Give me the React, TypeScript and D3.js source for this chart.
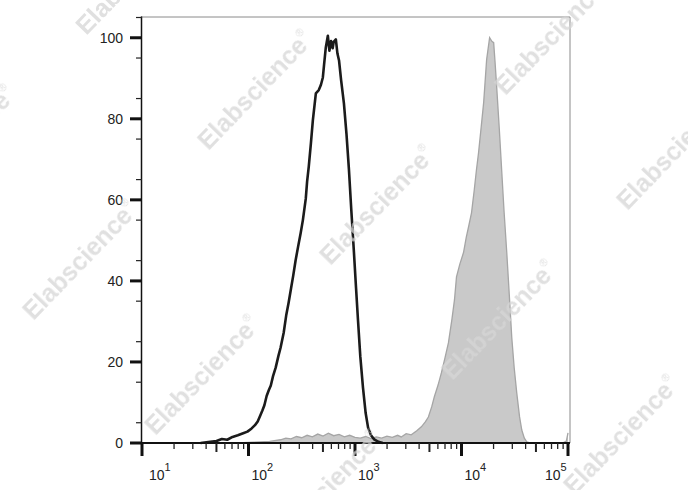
import React from 'react';
import * as d3 from 'd3';

// Unstained / isotype (black outline) histogram: fluorescence intensity & % of max
const blackFL = [35.5, 43.7, 50.1, 56.2, 63.1, 70.8, 79.4, 89.1, 97.7, 107, 115, 122, 129, 135, 141, 148, 155, 162, 170, 180, 191, 200, 214, 226, 238, 251, 263, 277, 292, 309, 324, 345, 355, 368, 385, 402, 417, 429, 457, 479, 499, 513, 532, 556, 575, 596, 617, 631, 661, 684, 708, 741, 787, 832, 877, 923, 977, 1023, 1067, 1122, 1189, 1259, 1327, 1413, 1514, 1660, 1820];
const blackCount = [0, 0.3, 0.5, 1.0, 0.8, 1.5, 1.9, 2.4, 2.8, 3.6, 4.4, 5.3, 6.8, 8.0, 9.3, 11.6, 13.0, 14.2, 16.5, 18.6, 21.5, 23.5, 27.2, 31.5, 34.6, 38.2, 41.3, 45.1, 48.4, 51.8, 55.0, 60.3, 64.5, 68.2, 73.8, 79.6, 83.4, 86.3, 87.1, 88.4, 90.2, 93.5, 97.6, 100.5, 96.8, 99.2, 97.4, 99.0, 99.6, 96.1, 94.4, 89.5, 83.8, 76.2, 67.5, 57.5, 47.1, 38.2, 30.3, 21.3, 13.6, 7.4, 3.8, 1.9, 0.9, 0.3, 0];

// Stained (grey filled) histogram
const grayFL = [79.4, 112, 158, 200, 224, 251, 282, 316, 355, 398, 447, 501, 562, 631, 708, 794, 891, 1000, 1122, 1259, 1413, 1585, 1778, 1995, 2239, 2512, 2716, 3020, 3373, 3802, 4198, 4571, 4887, 5248, 5559, 6026, 6471, 6998, 7534, 8128, 8590, 8974, 9661, 10447, 11092, 11641, 12417, 13183, 13804, 14454, 15311, 16144, 17219, 18365, 19275, 20045, 20654, 21380, 22646, 23823, 25119, 26607, 28184, 29648, 31261, 33037, 35075, 36813, 38905, 41020, 44668, 89125, 96605, 100000];
const grayCount = [0, 0.2, 0.4, 0.8, 1.2, 1.0, 1.6, 1.3, 1.9, 1.5, 2.2, 1.7, 2.4, 1.8, 2.1, 1.5, 1.9, 1.4, 1.2, 1.6, 1.1, 1.5, 1.2, 1.7, 1.4, 1.9, 1.5, 2.3, 2.0, 3.0, 4.0, 5.2, 6.4, 8.9, 11.4, 14.3, 17.3, 21.0, 24.7, 30.5, 35.3, 41.0, 44.2, 47.0, 50.8, 53.3, 56.8, 62.5, 67.3, 71.6, 78.0, 84.0, 94.6, 100.0, 99.1, 98.8, 94.0, 88.0, 77.5, 67.4, 57.0, 47.0, 36.0, 26.0, 18.5, 12.3, 6.5, 3.2, 1.2, 0.3, 0, 0, 0.5, 2.5];

const yTickValues = [0, 20, 40, 60, 80, 100];
const xDecadeExponents = [1, 2, 3, 4, 5];
const watermarkText = 'Elabscience';

export default function App() {
  const W = 688, H = 490;
  const left = 142, right = 568, top = 17.5, bottom = 443, boxRight = 570;
  const x = d3.scaleLog().domain([10, 1e5]).range([left, right]);
  const y = d3.scaleLinear().domain([0, 105]).range([bottom, top]);

  const blackData: [number, number][] = blackFL.map((v, i) => [v, blackCount[i]]);
  const grayData: [number, number][] = grayFL.map((v, i) => [v, grayCount[i]]);

  const line = d3.line<[number, number]>().x(d => x(Math.max(10, d[0]))).y(d => y(d[1]));
  const area = d3.area<[number, number]>().x(d => x(Math.max(10, d[0]))).y0(y(0)).y1(d => y(d[1]));

  // minor ticks
  const xMinor: { v: number; kind: 'minor' | 'mid' }[] = [];
  for (let e = 1; e < 5; e++) {
    for (let m = 2; m <= 9; m++) xMinor.push({ v: m * Math.pow(10, e), kind: m === 5 ? 'mid' : 'minor' });
  }
  const yMinor = d3.range(5, 106, 10);

  // watermark lattice
  const marks: { cx: number; cy: number }[] = [];
  const p0 = [255, 90], a = [122, 115], b = [175, -170];
  for (let i = -3; i <= 5; i++) {
    for (let j = -3; j <= 3; j++) {
      const cx = p0[0] + i * a[0] + j * b[0];
      const cy = p0[1] + i * a[1] + j * b[1];
      if (cx > -100 && cx < W + 80 && cy > -60 && cy < H + 5) marks.push({ cx, cy });
    }
  }

  const font = 'Arial, "Liberation Sans", Helvetica, sans-serif';

  return (
    <svg width={W} height={H} style={{ position: 'absolute', left: 0, top: 0, background: '#fff' }}>
      <rect x={0} y={0} width={W} height={H} fill="#fff" />
      {/* frame */}
      <line x1={left - 1} x2={boxRight} y1={top - 0.5} y2={top - 0.5} stroke="#8a8a8a" strokeWidth={1} />
      <line x1={boxRight} x2={boxRight} y1={top - 0.5} y2={bottom} stroke="#8a8a8a" strokeWidth={1} />

      {/* histograms */}
      <path d={area(grayData) || ''} fill="#c9c9c9" stroke="none" />
      <path d={line(grayData) || ''} fill="none" stroke="#a5a5a5" strokeWidth={1.3} />
      <path d={line(blackData) || ''} fill="none" stroke="#1b1b1b" strokeWidth={2.6} strokeLinejoin="round" />

      {/* y axis */}
      <line x1={left - 0.5} x2={left - 0.5} y1={top - 1} y2={bottom} stroke="#111" strokeWidth={1.5} />
      {yMinor.map(v => (
        <line key={'ym' + v} x1={left - 6} x2={left} y1={y(v)} y2={y(v)} stroke="#222" strokeWidth={1.2} />
      ))}
      {yTickValues.map(v => (
        <g key={'yt' + v}>
          <line x1={left - 12} x2={left} y1={y(v)} y2={y(v)} stroke="#111" strokeWidth={3} />
          <text x={123} y={y(v)} dy="0.35em" textAnchor="end" fontFamily={font} fontSize={14} fill="#222">{v}</text>
        </g>
      ))}

      {/* x axis */}
      <line x1={left - 1} x2={boxRight} y1={bottom} y2={bottom} stroke="#111" strokeWidth={2.2} />
      {xMinor.map((t, i) => (
        <line key={'xm' + i} x1={x(t.v)} x2={x(t.v)} y1={bottom} y2={bottom + (t.kind === 'mid' ? 9 : 6)} stroke="#222" strokeWidth={t.kind === 'mid' ? 2 : 1.3} />
      ))}
      {xDecadeExponents.map(e => {
        const px = x(Math.pow(10, e));
        const last = e === 5;
        const tx = last ? px - 23 : px + (e === 1 ? 7 : 3);
        return (
          <g key={'xt' + e}>
            <line x1={px} x2={px} y1={bottom} y2={bottom + 13} stroke="#111" strokeWidth={3} />
            <text x={tx} y={480} fontFamily={font} fontSize={14} fill="#222">
              10<tspan fontSize={11} dy={-9}>{e}</tspan>
            </text>
          </g>
        );
      })}

      {/* watermarks */}
      <g opacity={0.75}>
        {marks.map((m, i) => (
          <text key={'wm' + i} transform={`translate(${m.cx},${m.cy}) rotate(-46)`} textAnchor="middle" dy="0.35em"
            fontFamily={font} fontWeight="bold" fontSize={25} fill="#d6d6d6">
            {watermarkText}<tspan fontSize={11} dy={-13} fontWeight="normal">®</tspan>
          </text>
        ))}
      </g>
    </svg>
  );
}
